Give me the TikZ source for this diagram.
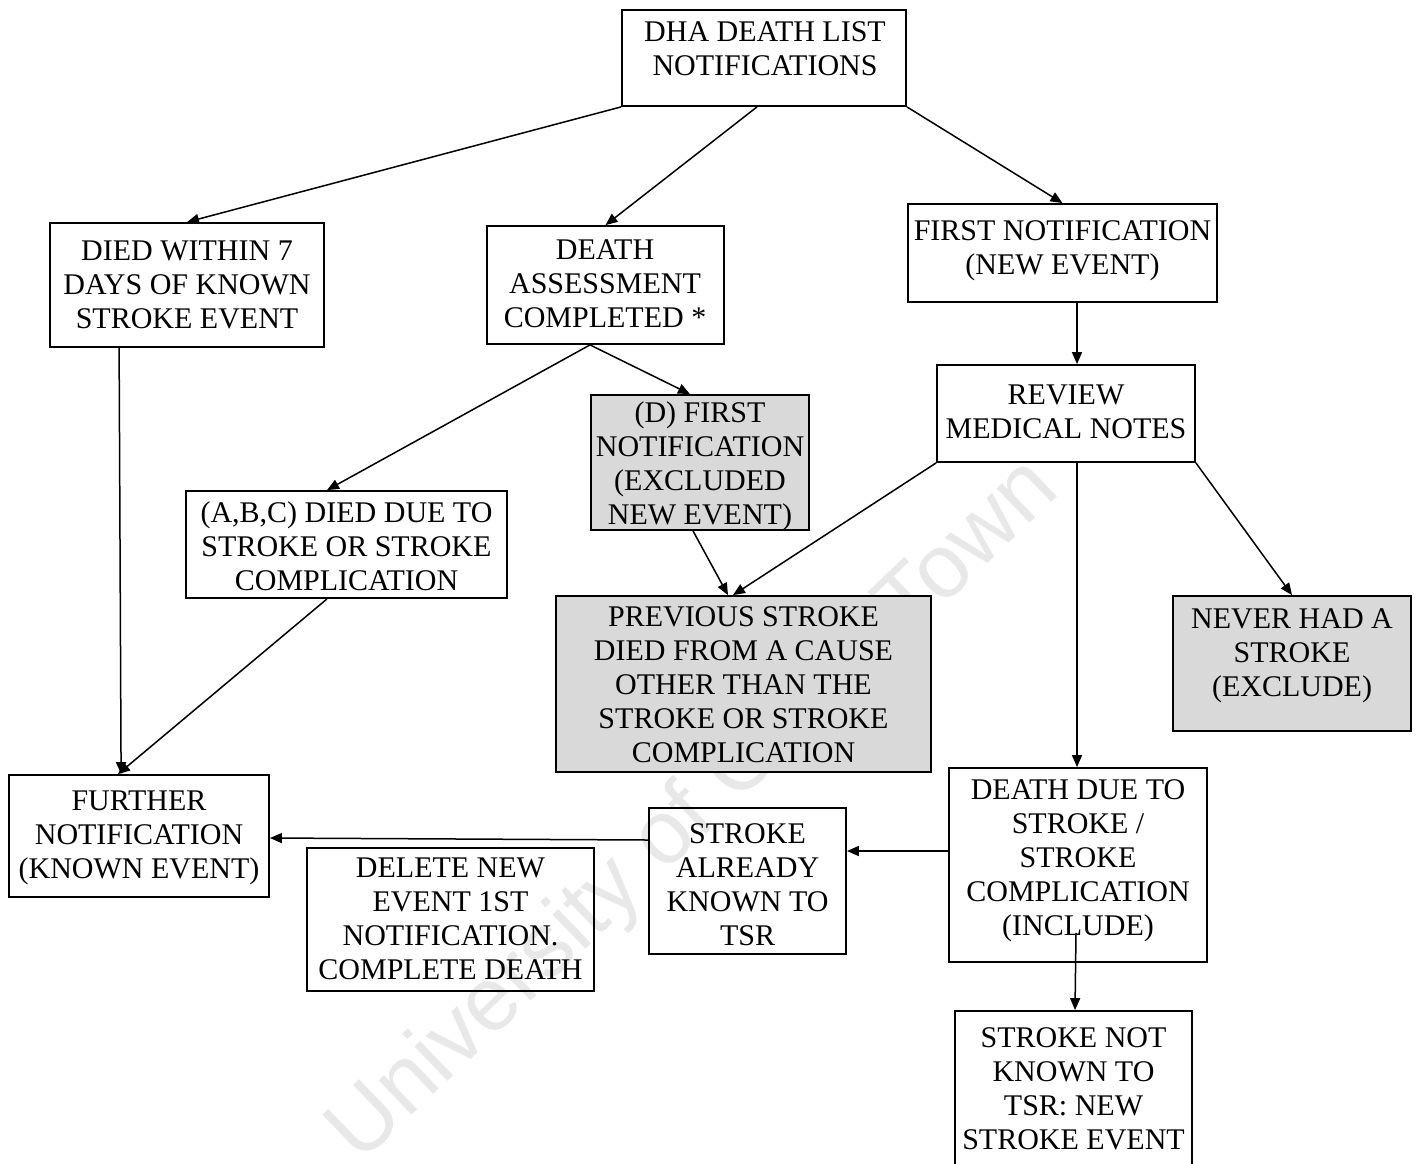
\documentclass[tikz,border=0pt]{standalone}
\usepackage{fontspec}
\setmainfont{Liberation Serif}
\newfontfamily\wmfont{Liberation Sans}
\usetikzlibrary{arrows.meta,calc}
\begin{document}
\begin{tikzpicture}[x=0.5pt,y=-0.5pt,
  box/.style={draw=black,line width=0.9pt,inner sep=0pt},
  graybox/.style={box,fill=black!15},
  txt/.style={align=center,inner sep=0pt,font=\fontsize{15}{17}\selectfont},
  conn/.style={draw=black,line width=0.75pt,-{Triangle[length=6pt,width=5pt]}},
  plain/.style={draw=black,line width=0.75pt}]
\useasboundingbox (0,0) rectangle (1417,1163);
\clip (0,0) rectangle (1417,1163);
% watermark
\node[rotate=43.8,text=black!9,font=\wmfont\fontsize{45}{50}\selectfont,inner sep=0pt] (wm) at (695,812) {University of Cape Town};
% boxes
\node[box,minimum width=142pt,minimum height=48pt] (b1) at (764,58) {};
\node[box,minimum width=137pt,minimum height=62pt] (b2) at (187,285) {};
\node[box,minimum width=118.5pt,minimum height=59pt] (b3) at (605.5,285) {};
\node[box,minimum width=154.5pt,minimum height=49pt] (b4) at (1062.5,253) {};
\node[box,minimum width=129pt,minimum height=48.5pt] (b5) at (1066,413.5) {};
\node[box,minimum width=160.5pt,minimum height=53.5pt] (b6) at (346.5,544.5) {};
\node[graybox,minimum width=109pt,minimum height=67.5pt] (b7) at (700,462.5) {};
\node[graybox,minimum width=187.5pt,minimum height=88pt] (b8) at (743.5,684) {};
\node[graybox,minimum width=119pt,minimum height=67.5pt] (b9) at (1292,663.5) {};
\node[box,minimum width=130pt,minimum height=61pt] (b10) at (139,836) {};
\node[box,minimum width=143.5pt,minimum height=71.5pt] (b11) at (450.5,919.5) {};
\node[box,minimum width=98.5pt,minimum height=73pt] (b12) at (747.5,881) {};
\node[box,minimum width=129pt,minimum height=97pt] (b13) at (1078,865) {};
\node[box,minimum width=118.5pt,minimum height=90pt] (b14) at (1073.5,1101) {};
% texts
\node[txt] (t1) at (765,49) {DHA DEATH LIST\\NOTIFICATIONS};
\node[txt] (t2) at (187,285) {DIED WITHIN 7\\DAYS OF KNOWN\\STROKE EVENT};
\node[txt] (t3) at (605,284) {DEATH\\ASSESSMENT\\COMPLETED *};
\node[txt] (t4) at (1062.5,251) {FIRST NOTIFICATION\\(NEW EVENT)};
\node[txt] (t5) at (1066,412) {REVIEW\\MEDICAL NOTES};
\node[txt] (t6) at (346.5,546) {(A,B,C) DIED DUE TO\\STROKE OR STROKE\\COMPLICATION};
\node[txt] (t7) at (700,466) {(D) FIRST\\NOTIFICATION\\(EXCLUDED\\NEW EVENT)};
\node[txt] (t8) at (743.5,685) {PREVIOUS STROKE\\DIED FROM A CAUSE\\OTHER THAN THE\\STROKE OR STROKE\\COMPLICATION};
\node[txt] (t9) at (1292,656) {NEVER HAD A\\STROKE\\(EXCLUDE)};
\node[txt] (t10) at (139,838) {FURTHER\\NOTIFICATION\\(KNOWN EVENT)};
\node[txt] (t11) at (450.5,919) {DELETE NEW\\EVENT 1ST\\NOTIFICATION.\\COMPLETE DEATH};
\node[txt] (t12) at (747.5,885) {STROKE\\ALREADY\\KNOWN TO\\TSR};
\node[txt] (t13) at (1078,861) {DEATH DUE TO\\STROKE /\\STROKE\\COMPLICATION\\(INCLUDE)};
\node[txt] (t14) at (1073.5,1089) {STROKE NOT\\KNOWN TO\\TSR: NEW\\STROKE EVENT};
% connectors
\draw[conn] (b1.south west) -- (b2.north);
\draw[conn] ($(b1.south)+(-7,0)$) -- (b3.north);
\draw[conn] (b1.south east) -- (b4.north);
\draw[conn] ($(b2.south west)+(70,0)$) -- ($(b10.north west)+(113,0)$);
\draw[conn] ($(b4.south)+(14.5,0)$) -- ($(b5.north)+(11,0)$);
\draw[conn] ($(b3.south)+(-15.5,0)$) -- ($(b7.north)+(-10,0)$);
\draw[conn] ($(b3.south)+(-15.5,0)$) -- ($(b6.north)+(-19.5,0)$);
\draw[conn] ($(b6.south)+(-19.5,0)$) -- ($(b10.north)+(-21,0)$);
\draw[conn] ($(b7.south)+(-7,0)$) -- ($(b8.north)+(-15.5,0)$);
\draw[conn] (b5.south west) -- ($(b8.north)+(-10.5,0)$);
\draw[conn] (b5.south east) -- (b9.north);
\draw[conn] ($(b5.south)+(11,0)$) -- ($(b13.north)+(-1,0)$);
\draw[conn] ($(b13.west)+(0,-14)$) -- ($(b12.east)+(0,-30)$);
\draw[conn] ($(b12.west)+(0,-41)$) -- ($(b10.east)+(0,2)$);
\draw[conn] ($(b13.south)+(-2,-30)$) -- ($(b14.north)+(1.5,0)$);
\end{tikzpicture}
\end{document}
